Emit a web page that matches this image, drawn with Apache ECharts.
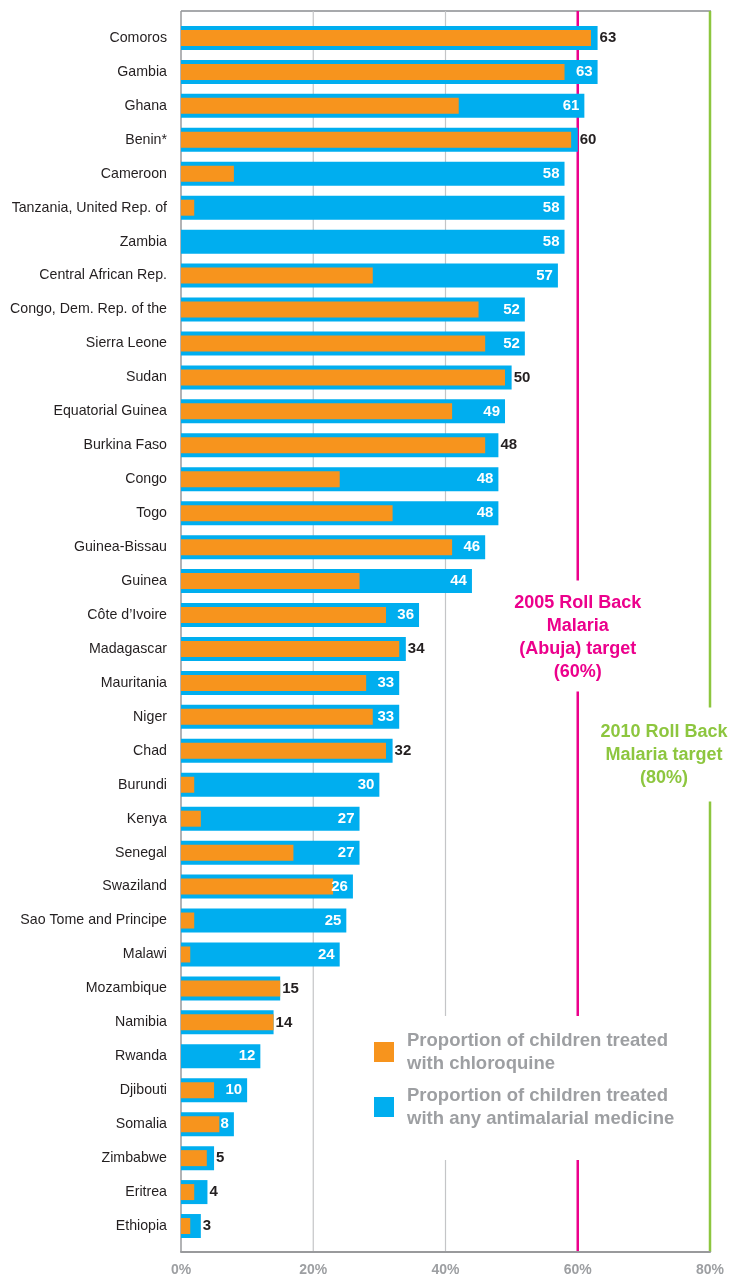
<!DOCTYPE html>
<html>
<head>
<meta charset="utf-8">
<script src="https://cdn.jsdelivr.net/npm/echarts@6/dist/echarts.min.js"></script>
<style>
html,body{margin:0;padding:0;background:#fff;}
#chart{width:730px;height:1277px;}
</style>
</head>
<body>
<div id="chart"></div>
<script>
// ---- data ----
const countries = ['Comoros','Gambia','Ghana','Benin*','Cameroon','Tanzania, United Rep. of','Zambia',
  'Central African Rep.','Congo, Dem. Rep. of the','Sierra Leone','Sudan','Equatorial Guinea','Burkina Faso',
  'Congo','Togo','Guinea-Bissau','Guinea','Côte d’Ivoire','Madagascar','Mauritania','Niger','Chad','Burundi',
  'Kenya','Senegal','Swaziland','Sao Tome and Principe','Malawi','Mozambique','Namibia','Rwanda','Djibouti',
  'Somalia','Zimbabwe','Eritrea','Ethiopia'];
const anyAntimalarial = [63,63,61,60,58,58,58,57,52,52,50,49,48,48,48,46,44,36,34,33,33,32,30,27,27,26,25,24,15,14,12,10,8,5,4,3];
const chloroquine = [62,58,42,59,8,2,0,29,45,46,49,41,46,24,32,41,27,31,33,28,29,31,2,3,17,23,2,1.4,15,14,0,5,5.8,3.9,2,1.4];
const xTicks = [0,20,40,60,80];
const targets = [60,80];
const seriesNames = ['Proportion of children treated\nwith chloroquine','Proportion of children treated\nwith any antimalarial medicine'];
const targetTexts = ['2005 Roll Back\nMalaria\n(Abuja) target\n(60%)','2010 Roll Back\nMalaria target\n(80%)'];

// ---- styles ----
const BLUE = '#00aeef', ORANGE = '#f7941d', PINK = '#ec008c', GREEN = '#8dc63f', GREY = '#9d9fa2', DARK = '#231f20';
const FB = "'Liberation Sans',Arial,Helvetica,sans-serif";
const GRID = {left:181, right:20, top:21, bottom:34, containLabel:false, outerBoundsMode:'none'};
const H = 1277, W = 730;
const frameTop = GRID.top - 10, frameBottom = H - GRID.bottom + 9;

const chart = echarts.init(document.getElementById('chart'), null, {renderer:'canvas'});

const labelItems = anyAntimalarial.map((v,i) => {
  const inside = (v - chloroquine[i]) > 2.1;
  return {
    value: v,
    label: inside
      ? {position:'insideRight', distance:5, color:'#fff'}
      : {position:'right', distance:2, color:DARK}
  };
});

chart.setOption({
  animation:false,
  grid: GRID,
  xAxis: {
    type:'value', min:xTicks[0], max:xTicks[xTicks.length-1], interval:20,
    offset:9,
    axisLine:{show:true, lineStyle:{color:'#999a9c', width:2}},
    axisTick:{show:false},
    splitLine:{show:false},
    axisLabel:{formatter:'{value}%', color:GREY, fontFamily:FB, fontWeight:'bold', fontSize:14, margin:11}
  },
  yAxis: [
    {type:'category', inverse:true, data:countries,
     axisLine:{show:false}, axisTick:{show:false},
     axisLabel:{color:DARK, fontFamily:FB, fontSize:14.2, margin:14}},
    {type:'category', inverse:true, data:countries, show:false}
  ],
  legend: [
    {data:[seriesNames[0]], left:374, top:1017.5, padding:0, itemWidth:20, itemHeight:20, icon:'rect',
     selectedMode:false,
     textStyle:{color:GREY, fontFamily:FB, fontWeight:'bold', fontSize:18.5, lineHeight:23, padding:[23,0,0,8]}},
    {data:[seriesNames[1]], left:374, top:1072.5, padding:0, itemWidth:20, itemHeight:20, icon:'rect',
     selectedMode:false,
     textStyle:{color:GREY, fontFamily:FB, fontWeight:'bold', fontSize:18.5, lineHeight:23, padding:[23,0,0,8]}}
  ],
  series: [
    {name:seriesNames[1], type:'bar', yAxisIndex:0, data:anyAntimalarial, barWidth:24, barGap:'-100%',
     itemStyle:{color:BLUE}, z:2, silent:true},
    {name:seriesNames[0], type:'bar', yAxisIndex:1, data:chloroquine, barWidth:16,
     itemStyle:{color:ORANGE}, z:3, silent:true},
    {name:'labels', type:'bar', yAxisIndex:0, data:labelItems, barWidth:24, barGap:'-100%',
     itemStyle:{color:'rgba(0,0,0,0)'}, z:4, silent:true,
     label:{show:true, fontFamily:FB, fontWeight:'bold', fontSize:15}}
  ]
});

// vertical reference lines, computed through the x axis scale
const px = v => chart.convertToPixel({xAxisIndex:0}, v);
const x0 = px(xTicks[0]), xEnd = px(xTicks[xTicks.length-1]);
const seg = (x, y1, y2, color, w) => ({type:'line', z:0, silent:true,
  shape:{x1:x, y1:y1, x2:x, y2:y2}, style:{stroke:color, lineWidth:w}});

const legendGapTop = 1016, legendGapBottom = 1160;
const pinkTextTop = 591.5, greenTextTop = 720.5;
const elements = [
  {type:'line', z:0, silent:true, shape:{x1:x0, y1:frameTop, x2:xEnd+1, y2:frameTop}, style:{stroke:'#a7a9ac', lineWidth:2}},
  seg(x0, frameTop, frameBottom, '#999a9c', 1.5),
  seg(px(20), frameTop, frameBottom, '#c4c5c7', 1.2),
  seg(px(40), frameTop, legendGapTop, '#c4c5c7', 1.2),
  seg(px(40), legendGapBottom, frameBottom, '#c4c5c7', 1.2),
  seg(px(targets[0]), frameTop, pinkTextTop - 11, PINK, 2.5),
  seg(px(targets[0]), pinkTextTop + 4*23 + 8, legendGapTop, PINK, 2.5),
  seg(px(targets[0]), legendGapBottom, frameBottom, PINK, 2.5),
  seg(px(targets[1]), frameTop, greenTextTop - 13, GREEN, 2.5),
  seg(px(targets[1]), greenTextTop + 3*23 + 12, frameBottom, GREEN, 2.5),
  {type:'text', z:5, silent:true, x:px(targets[0]), y:pinkTextTop,
   style:{text:targetTexts[0], fill:PINK, fontFamily:FB, fontWeight:'bold', fontSize:18, lineHeight:23, align:'center', verticalAlign:'top'}},
  {type:'text', z:5, silent:true, x:px(targets[1]) - 46, y:greenTextTop,
   style:{text:targetTexts[1], fill:GREEN, fontFamily:FB, fontWeight:'bold', fontSize:18, lineHeight:23, align:'center', verticalAlign:'top'}}
];
chart.setOption({graphic:{elements:elements}});
</script>
</body>
</html>
